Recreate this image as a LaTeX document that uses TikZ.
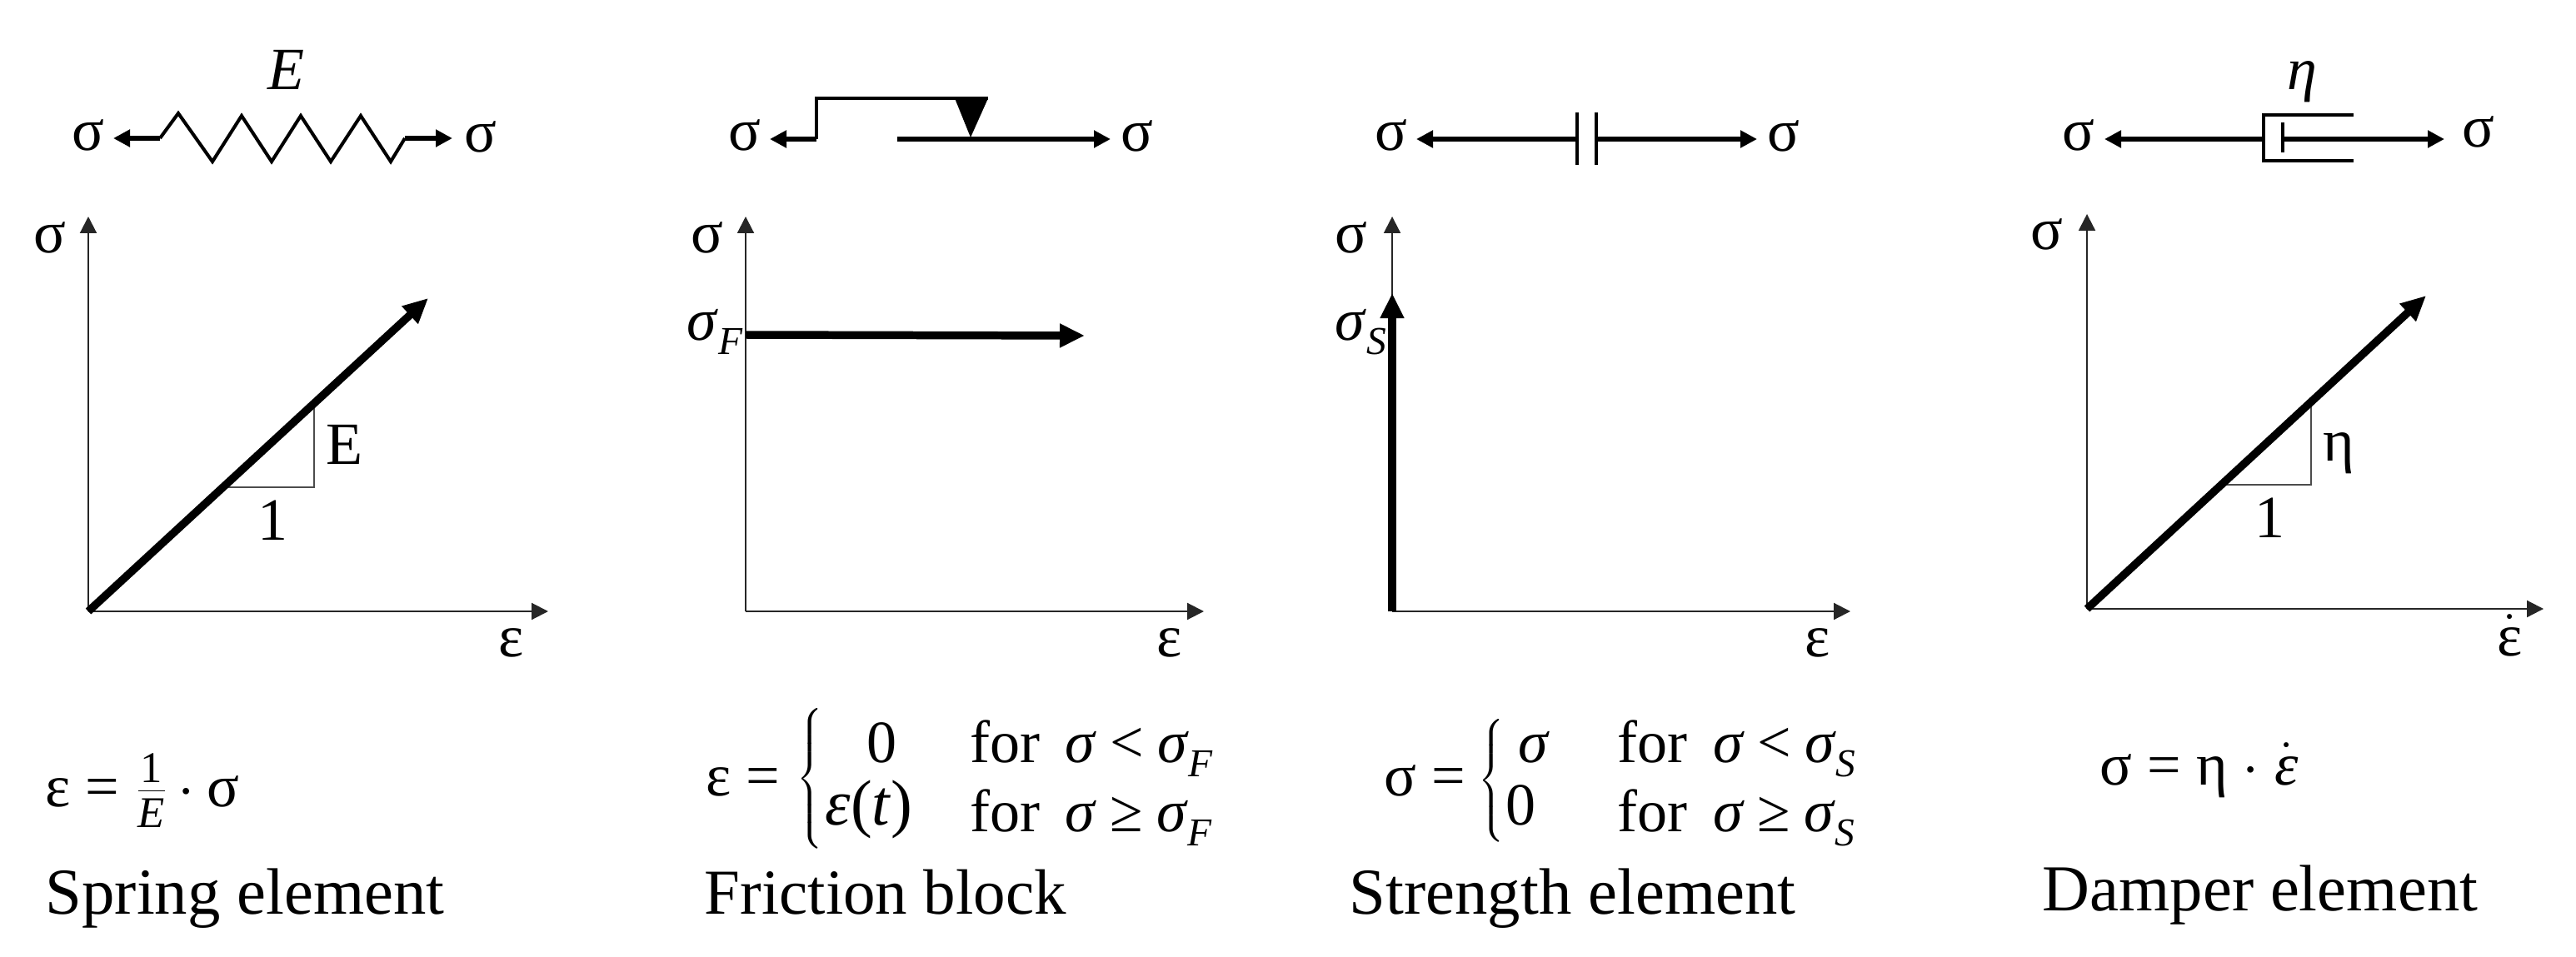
\documentclass[tikz,border=0pt]{standalone}
\usepackage{fontspec}
\setmainfont{Liberation Serif}
\usepackage{tikz}
\usetikzlibrary{arrows.meta}
\usetikzlibrary{calc}

\newcommand{\sigsub}[1]{\textit{σ}\raisebox{-0.24em}{\fontsize{13.5}{14}\selectfont\textit{#1}}}
\newcommand{\forrow}[2]{for\hspace{0.42em}\textit{σ}\hspace{0.22em}#1\hspace{0.22em}\sigsub{#2}}
\newcommand{\bracebox}[1]{$\delimitershortfall=0pt\left\{\vcenter{\vbox to #1{}}\right.$}

\tikzset{
  symb/.style={inner sep=0pt, font=\fontsize{20.5}{22}\selectfont},
  basew/.style={symb, anchor=base west},
  elemname/.style={inner sep=0pt, anchor=base west, font=\fontsize{22.4}{24}\selectfont},
  axisline/.style={draw=black!85, line width=0.6pt, -{Triangle[length=0.2cm,width=0.2cm]}},
  thinline/.style={draw=black!70, line width=0.6pt},
  thickline/.style={draw=black, line width=2.7pt, -{Triangle[length=0.3cm,width=0.27cm]}},
  elemarrow/.style={draw=black, line width=1.6pt, -{Triangle[length=0.2cm,width=0.2cm]}},
  elemline/.style={draw=black, line width=1.15pt, line join=miter},
}

\begin{document}
\begin{tikzpicture}

\useasboundingbox (0,0) rectangle (30.92,11.48);

\coordinate (s0) at (1.92,9.82);
\coordinate (s1) at (4.86,9.82);
\coordinate (s0tip) at (1.36,9.82);
\coordinate (s1tip) at (5.43,9.82);
\draw [elemarrow] (s0) -- (s0tip);
\draw [elemarrow] (s1) -- (s1tip);
\draw [elemline] (s0) -- (2.14,10.12) -- (2.55,9.54) -- (2.90,10.09) -- (3.26,9.54) -- (3.61,10.09) -- (3.97,9.54) -- (4.33,10.09) -- (4.69,9.54) -- (s1);
\node at (3.43,10.64) [symb] (sE) {\textit{E}};
\node at (1.06,9.86) [symb] (ssl) {σ};
\node at (5.77,9.84) [symb] (ssr) {σ};

\coordinate (o1) at (1.06,4.14);
\coordinate (o1y) at (1.06,8.88);
\coordinate (o1x) at (6.58,4.14);
\coordinate (o1t) at (5.14,7.90);
\draw [axisline] (o1) -- (o1y);
\draw [axisline] (o1) -- (o1x);
\draw [thinline] (2.73,5.63) -- (3.77,5.63) -- (3.77,6.58);
\draw [thickline] (o1) -- (o1t);
\node at (0.60,8.63) [symb] (ay1) {σ};
\node at (6.14,3.76) [symb] (ax1) {ε};
\node at (4.13,6.14) [symb] (tE) {E};
\node at (3.28,5.00) [symb, anchor=base] (t1) {1};
\node at (0.54,1.80) [basew] (fs) {ε = $\frac{\mbox{\fontsize{15}{15}\selectfont 1}}{\mbox{\fontsize{15}{15}\selectfont\textit{E}}}$\hspace{0.16em}$\cdot$\hspace{0.2em}σ};
\node at (0.54,0.51) [elemname] (ns) {Spring element};

\coordinate (f0) at (9.80,9.81);
\coordinate (f0tip) at (9.24,9.81);
\coordinate (f1) at (10.77,9.81);
\coordinate (f1tip) at (13.33,9.81);
\draw [elemarrow] (f0) -- (f0tip);
\draw [elemarrow] (f1) -- (f1tip);
\draw [elemline] (f0) -- (9.80,10.30) -- (11.86,10.30);
\fill (11.46,10.30) -- (11.86,10.30) -- (11.65,9.83) -- cycle;
\node at (8.94,9.86) [symb] (fsl) {σ};
\node at (13.65,9.85) [symb] (fsr) {σ};

\coordinate (o2) at (8.95,4.14);
\coordinate (o2y) at (8.95,8.88);
\coordinate (o2x) at (14.45,4.14);
\coordinate (o2s) at (8.95,7.46);
\coordinate (o2t) at (13.02,7.45);
\draw [axisline] (o2) -- (o2y);
\draw [axisline] (o2) -- (o2x);
\draw [thickline] (o2s) -- (o2t);
\node at (8.49,8.63) [symb] (ay2) {σ};
\node at (14.04,3.76) [symb] (ax2) {ε};
\node at (8.24,7.40) [basew] (sF) {\sigsub{F}};
\node at (8.47,1.93) [basew] (ff) {ε =};
\node at (9.74,2.13) [symb] (bf) {\bracebox{1.64cm}};
\node at (10.58,2.33) [symb, anchor=base] (ff0) {0};
\node at (9.90,1.58) [basew, font=\fontsize{22}{24}\selectfont] (ffe) {\textit{ε}(\textit{t})};
\node at (11.64,2.33) [basew] (ffa) {\forrow{<}{F}};
\node at (11.64,1.50) [basew] (ffb) {\forrow{≥}{F}};
\node at (8.45,0.51) [elemname, font=\fontsize{21.9}{24}\selectfont] (nf) {Friction block};

\coordinate (t0) at (18.93,9.81);
\coordinate (t0tip) at (17.00,9.81);
\coordinate (t1) at (19.16,9.81);
\coordinate (t1tip) at (21.09,9.81);
\draw [elemarrow] (t0) -- (t0tip);
\draw [elemarrow] (t1) -- (t1tip);
\draw [elemline] (18.93,10.13) -- (18.93,9.50);
\draw [elemline] (19.16,10.13) -- (19.16,9.50);
\node at (16.70,9.86) [symb] (tsl) {σ};
\node at (21.41,9.85) [symb] (tsr) {σ};

\coordinate (o3) at (16.71,4.14);
\coordinate (o3y) at (16.71,8.88);
\coordinate (o3x) at (22.21,4.14);
\coordinate (o3t) at (16.71,7.96);
\draw [axisline] (o3) -- (o3y);
\draw [axisline] (o3) -- (o3x);
\draw [thickline] (o3) -- (o3t);
\node at (16.22,8.63) [symb] (ay3) {σ};
\node at (21.82,3.76) [symb] (ax3) {ε};
\node at (16.02,7.40) [basew] (sS) {\sigsub{S}};
\node at (16.61,1.93) [basew] (ft) {σ =};
\node at (17.92,2.11) [symb] (bt) {\bracebox{1.3cm}};
\node at (18.22,2.33) [basew] (fts) {\textit{σ}};
\node at (18.07,1.58) [basew] (ft0) {0};
\node at (19.41,2.33) [basew] (fta) {\forrow{<}{S}};
\node at (19.41,1.50) [basew] (ftb) {\forrow{≥}{S}};
\node at (16.19,0.51) [elemname] (nt) {Strength element};

\coordinate (d0) at (27.17,9.81);
\coordinate (d0tip) at (25.26,9.81);
\coordinate (d1) at (27.40,9.81);
\coordinate (d1tip) at (29.34,9.81);
\draw [elemarrow] (d0) -- (d0tip);
\draw [elemarrow] (d1) -- (d1tip);
\draw [elemline] (28.25,10.10) -- (27.17,10.10) -- (27.17,9.55) -- (28.25,9.55);
\draw [elemline] (27.40,10.01) -- (27.40,9.65);
\node at (27.63,10.50) [symb] (de) {\textit{η}};
\node at (24.95,9.86) [symb] (dsl) {σ};
\node at (29.75,9.90) [symb] (dsr) {σ};

\coordinate (o4) at (25.05,4.17);
\coordinate (o4y) at (25.05,8.91);
\coordinate (o4x) at (30.53,4.17);
\coordinate (o4t) at (29.12,7.93);
\draw [axisline] (o4) -- (o4y);
\draw [axisline] (o4) -- (o4x);
\draw [thinline] (26.70,5.66) -- (27.74,5.66) -- (27.74,6.63);
\draw [thickline] (o4) -- (o4t);
\node at (24.57,8.67) [symb] (ay4) {σ};
\node at (30.13,3.85) [symb] (ax4) {$\dot{\mbox{ε}}$};
\node at (28.07,5.95) [symb, anchor=base] (te) {η};
\node at (27.24,5.03) [symb, anchor=base] (d1l) {1};
\node at (25.20,2.06) [basew] (fd) {σ = η $\cdot$ $\dot{\mbox{\textit{ε}}}$};
\node at (24.51,0.55) [elemname] (nd) {Damper element};

\end{tikzpicture}
\end{document}
